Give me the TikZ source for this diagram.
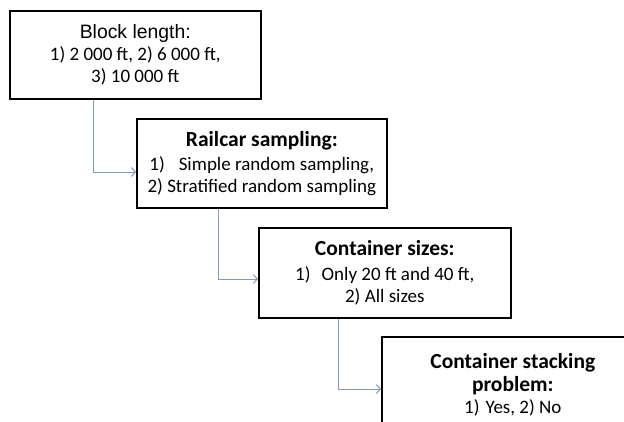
\documentclass[tikz,border=0pt]{standalone}
\usepackage{fontspec}
\setmainfont{Carlito}
\newfontfamily\arialfont{Liberation Sans}
\usetikzlibrary{arrows.meta,calc}
\definecolor{connblue}{RGB}{125,155,190}
\newcommand{\boxtitle}[1]{{\fontsize{21.5}{22}\selectfont\bfseries #1}}
\tikzset{
  box/.style={draw=black, line width=1.6pt, fill=white, anchor=north west, align=center,
    inner sep=0pt, font=\fontsize{19}{22}\selectfont},
  conn/.style={draw=connblue, line width=1pt, -{Straight Barb[length=4pt,width=9pt]}},
}
\begin{document}
\begin{tikzpicture}[x=1pt,y=-1pt]
\useasboundingbox (0,0) rectangle (624,421);
\clip (0,0) rectangle (624,421);
\fill[white] (0,0) rectangle (624,421);
\node[box, minimum width=251, minimum height=88] (b1) at (9,10)
  {{\arialfont\fontsize{19.4}{22}\selectfont Block length:}\\1) 2 000 ft, 2) 6 000 ft,\\3) 10 000 ft};
\node[box, minimum width=250, minimum height=89] (b2) at (136,118)
  {\boxtitle{Railcar sampling:}\\[2pt]1)\hspace{14pt}Simple random sampling,\\2) Stratified random sampling};
\node[box, minimum width=252, minimum height=90] (b3) at (258,227)
  {\boxtitle{Container sizes:}\\[3pt]1)\hspace{11pt}Only 20 ft and 40 ft,\\2) All sizes};
\node[box, minimum width=262, minimum height=96] (b4) at (381,336)
  {\boxtitle{Container stacking}\\[1pt]\boxtitle{problem:}\\1)\hspace{6pt}Yes, 2) No};
\draw[conn] ($(b1.south west)+(84,0)$) |- ($(b2.north west)+(0,54)$);
\draw[conn] ($(b2.south west)+(82,0)$) |- ($(b3.north west)+(0,52)$);
\draw[conn] ($(b3.south west)+(80,0)$) |- ($(b4.north west)+(0,53)$);
\end{tikzpicture}
\end{document}
